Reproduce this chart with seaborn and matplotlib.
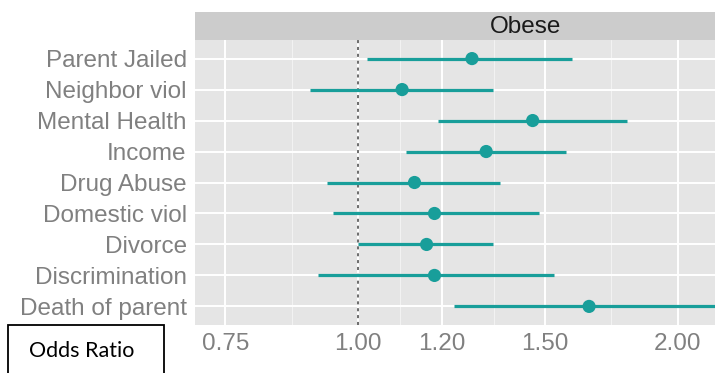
import numpy as np
import pandas as pd
import matplotlib
matplotlib.use("Agg")
import matplotlib.pyplot as plt
import seaborn as sns
from matplotlib.patches import Rectangle
from matplotlib.ticker import FixedLocator, NullFormatter

# Odds ratios (with 95% CI) for the "Obese" outcome
factors = ["Parent Jailed", "Neighbor viol", "Mental Health", "Income", "Drug Abuse",
           "Domestic viol", "Divorce", "Discrimination", "Death of parent"]
odds_ratio = [1.28, 1.10, 1.46, 1.32, 1.13, 1.18, 1.16, 1.18, 1.65]
ci_low = [1.02, 0.90, 1.19, 1.11, 0.935, 0.947, 1.00, 0.917, 1.23]
ci_high = [1.59, 1.34, 1.79, 1.57, 1.36, 1.48, 1.34, 1.53, 2.25]

x_breaks = [0.75, 1.00, 1.20, 1.50, 2.00]
x_labels = ["0.75", "1.00", "1.20", "1.50", "2.00"]
facet_label = "Obese"

df = pd.DataFrame({"factor": factors, "or": odds_ratio, "lo": ci_low, "hi": ci_high})

teal = "#189e9a"
grey_text = "#808080"

sns.set_style("white")
plt.rcParams["font.family"] = ["Liberation Sans", "DejaVu Sans"]

fig = plt.figure(figsize=(7.15, 3.73), dpi=100)

# panel (extends past the right edge, as in the cropped original)
left, bottom, width, height = 195 / 715, 48 / 373, 662 / 715, 285 / 373
ax = fig.add_axes([left, bottom, width, height])
ax.set_facecolor("#E5E5E5")

ax.set_xscale("log")
ax.set_xlim(0.702, 2.95)

# grid lines like ggplot
minor = [np.sqrt(a * b) for a, b in zip(x_breaks[:-1], x_breaks[1:])]
for m in minor:
    ax.axvline(m, color="#F2F2F2", lw=0.8, zorder=0)
for b in x_breaks:
    ax.axvline(b, color="white", lw=1.4, zorder=0)
ax.hlines(df["factor"], 0.5, 4, color="white", lw=1.4, zorder=0)

ax.axvline(1.0, color="#444444", lw=1.1, ls=(0, (2, 2.5)), zorder=1)

ax.hlines(df["factor"], df["lo"], df["hi"], color=teal, lw=2.3, zorder=2)
sns.scatterplot(data=df, x="or", y="factor", color=teal, s=90, edgecolor="none",
                ax=ax, zorder=3, legend=False)

ax.set_ylim(len(factors) - 0.4, -0.6)
ax.xaxis.set_major_locator(FixedLocator(x_breaks))
ax.set_xticklabels(x_labels)
ax.xaxis.set_minor_formatter(NullFormatter())
ax.xaxis.set_minor_locator(FixedLocator([]))
ax.set_xlabel("")
ax.set_ylabel("")
ax.grid(False)
for s in ax.spines.values():
    s.set_visible(False)
ax.tick_params(axis="both", which="major", length=3.5, width=0.8, color=grey_text,
               labelcolor=grey_text, labelsize=17.5, pad=2.5)

# facet strip
strip = fig.add_axes([left, 333 / 373, width, 28 / 373])
strip.set_facecolor("#CCCCCC")
strip.set_xticks([])
strip.set_yticks([])
for s in strip.spines.values():
    s.set_visible(False)
strip.text(0.5, 0.45, facet_label, ha="center", va="center", fontsize=17.5, color="#1a1a1a",
           transform=strip.transAxes)

# "Odds Ratio" boxed label
fig.patches.append(Rectangle((8 / 715, -2 / 373), 156 / 715, 50 / 373, transform=fig.transFigure,
                             fill=False, edgecolor="black", lw=1.3))
fig.text(82 / 715, 22 / 373, "Odds Ratio", ha="center", va="center", fontsize=15.5,
         family=["Lato", "DejaVu Sans"], color="black")

fig.savefig("out.png", dpi=100)
